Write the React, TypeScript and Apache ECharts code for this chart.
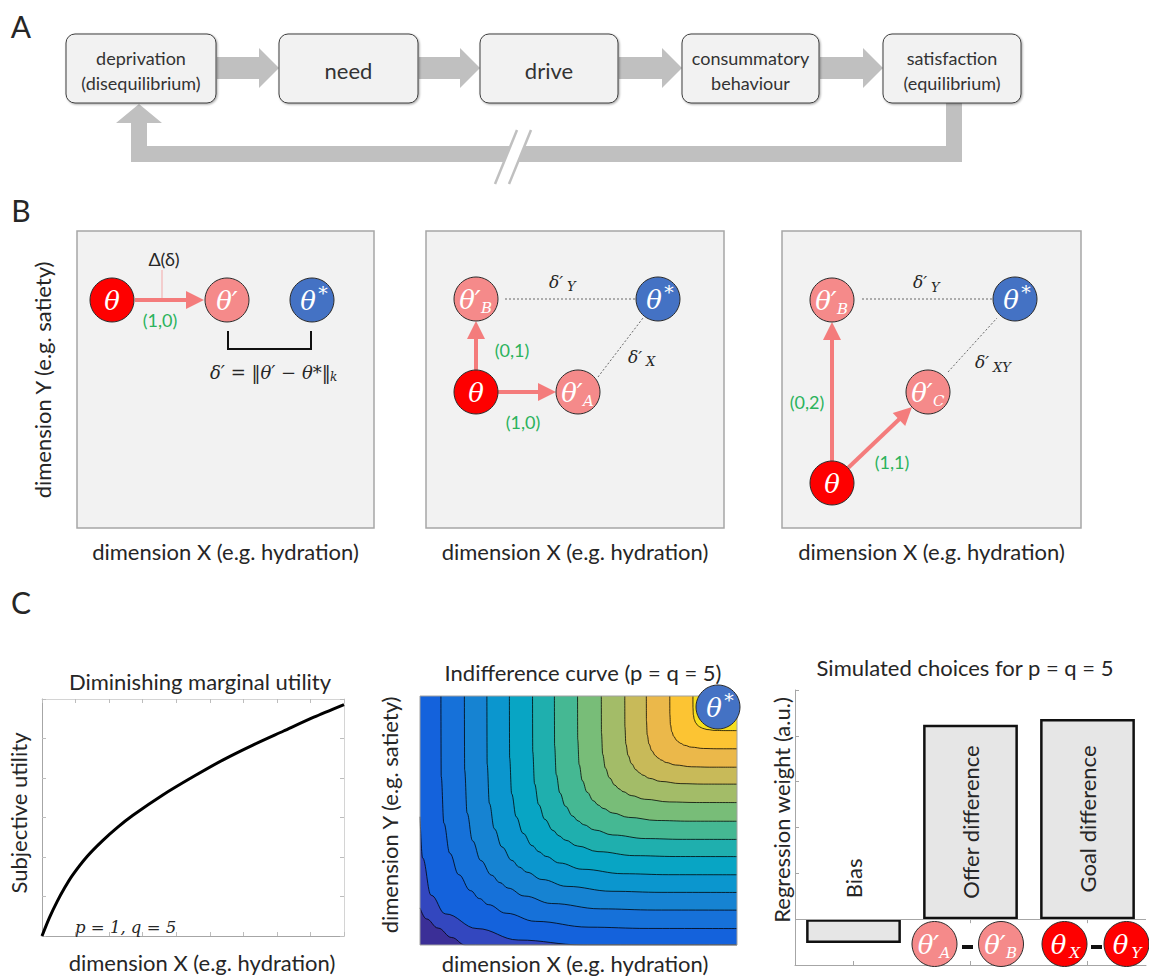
import React, { useEffect, useRef } from "react";
import * as echarts from "echarts";

const SANS = 'Lato, "Noto Sans", sans-serif';
const SERIF = '"DejaVu Serif", "Liberation Serif", serif';
const INK = "#262626";
const GREEN = "#2bb35c";
const RED = "#fe0000";
const PINK = "#f58a8a";
const BLUE = "#4472c4";
const ARROW_PINK = "#f47c7c";
const BLOCK_GRAY = "#c0c0c0";

// ---------- Panel A: flow steps
const flowSteps = [
  "deprivation\n(disequilibrium)",
  "need",
  "drive",
  "consummatory\nbehaviour",
  "satisfaction\n(equilibrium)",
];

// ---------- Panel C1: diminishing marginal utility (x in tick units 0..9, y in tick units 0..6)
const utilityX = [0, 0.225, 0.45, 0.675, 0.9, 1.35, 1.8, 2.25, 2.7, 3.6, 4.5, 5.4, 6.3, 7.2, 8.1, 9];
const utilityY = [0, 0.47, 0.87, 1.22, 1.53, 2.02, 2.41, 2.75, 3.05, 3.57, 4.03, 4.46, 4.84, 5.19, 5.54, 5.86];

// ---------- Panel C2: indifference curves (normalised 0..1 box)
// where each inner contour meets the top edge
const contourTopCrossings = [0.066, 0.14, 0.211, 0.282, 0.355, 0.424, 0.497, 0.572, 0.646, 0.714, 0.788, 0.861];
// common contour profile (fraction of corner distance, x and y)
const contourShapeU = [1, 0.999, 0.99, 0.97, 0.94, 0.9, 0.87, 0.84, 0.78, 0.68, 0.5, 0.3, 0];
const contourShapeV = [0, 0.346, 0.547, 0.676, 0.768, 0.837, 0.871, 0.897, 0.934, 0.969, 0.994, 0.9995, 1];
// the two outer contours near the lower-left corner
const outerContourA = [[0, 0.149], [0.02, 0.105], [0.057, 0.068], [0.1, 0.03], [0.142, 0], [1, 0]];
const outerContourB = [[0, 0.515], [0.008, 0.35], [0.035, 0.2], [0.08, 0.125], [0.18, 0.066], [0.31, 0.02], [0.515, 0], [1, 0]];
const contourColors = [
  "#3b2f97", "#3347bf", "#1462dc", "#1671d9", "#1683d2", "#0b96ce", "#08a5c4", "#1fafae",
  "#45b893", "#78bd78", "#a3bc68", "#c8ba59", "#ebb84a", "#fcc433", "#f6df1e",
];

// ---------- Panel C3: regression weights
const regressionCategories = ["Bias", "Offer difference", "Goal difference"];
const regressionWeights = [-0.52, 4.24, 4.37];

// ---------- helpers
function txt(x: number, y: number, text: string, size: number, o: any = {}) {
  return {
    type: "text",
    z: o.z ?? 120,
    x,
    y,
    rotation: o.rot || 0,
    style: {
      text,
      fill: o.color || INK,
      fontSize: size,
      fontFamily: o.family || SANS,
      fontStyle: o.italic ? "italic" : "normal",
      fontWeight: o.weight || "normal",
      align: o.align || "center",
      verticalAlign: o.va || "middle",
      lineHeight: o.lh,
    },
  };
}

type NodeDef = { cx: number; cy: number; fill: string; sym: string; sub?: string; star?: boolean };
function nodeEls(n: NodeDef, r = 22) {
  const els: any[] = [
    { type: "circle", z: 110, shape: { cx: n.cx, cy: n.cy, r }, style: { fill: n.fill, stroke: "#2b2b2b", lineWidth: 1 } },
  ];
  const shift = n.sub ? -6 : n.star ? -4 : 0;
  els.push(txt(n.cx + shift, n.cy + 1, n.sym, 26, { color: "#fff", family: SERIF, italic: true, z: 111 }));
  if (n.sub) els.push(txt(n.cx + 5, n.cy + 9, n.sub, 15, { color: "#fff", family: SERIF, italic: true, align: "left", z: 111 }));
  if (n.star) els.push(txt(n.cx + 11, n.cy - 7, "*", 19, { color: "#fff", family: SERIF, z: 111 }));
  return els;
}

function arrowEls(x1: number, y1: number, x2: number, y2: number, w = 4, hl = 18, hw = 18, color = ARROW_PINK) {
  const dx = x2 - x1, dy = y2 - y1;
  const L = Math.hypot(dx, dy);
  const ux = dx / L, uy = dy / L;
  const bx = x2 - ux * hl, by = y2 - uy * hl;
  const px = -uy, py = ux;
  return [
    { type: "line", z: 105, shape: { x1, y1, x2: bx + ux, y2: by + uy }, style: { stroke: color, lineWidth: w } },
    {
      type: "polygon",
      z: 105,
      shape: { points: [[x2, y2], [bx + (px * hw) / 2, by + (py * hw) / 2], [bx - (px * hw) / 2, by - (py * hw) / 2]] },
      style: { fill: color },
    },
  ];
}

function dotted(x1: number, y1: number, x2: number, y2: number) {
  return { type: "line", z: 104, shape: { x1, y1, x2, y2 }, style: { stroke: "#444", lineWidth: 0.8, lineDash: [2, 2] } };
}

function buildGraphics() {
  const g: any[] = [];
  // panel letters
  g.push(txt(21, 26, "A", 30));
  g.push(txt(21, 210, "B", 30));
  g.push(txt(21, 602, "C", 30));

  // ---- Panel A
  const boxX0 = [66, 279, 480, 682, 883];
  const boxX1 = [216, 418, 618, 819, 1021];
  const boxTop = 34, boxBot = 103, yc = 68;
  for (let i = 0; i < 4; i++) {
    const x0 = boxX1[i] + 1, xt = boxX0[i + 1], xb = xt - 20;
    g.push({
      type: "polygon",
      z: 100,
      shape: {
        points: [[x0, yc - 11], [xb, yc - 11], [xb, yc - 20], [xt, yc], [xb, yc + 20], [xb, yc + 11], [x0, yc + 11]],
      },
      style: { fill: BLOCK_GRAY },
    });
  }
  g.push({
    type: "polygon",
    z: 100,
    shape: {
      points: [
        [946, boxBot], [962, boxBot], [962, 162], [131, 162], [131, 123], [116, 123], [139, boxBot + 1],
        [162, 123], [147, 123], [147, 146], [946, 146],
      ],
    },
    style: { fill: BLOCK_GRAY },
  });
  g.push({ type: "polygon", z: 101, shape: { points: [[517, 130], [531, 130], [509, 184], [495, 184]] }, style: { fill: "#fff" } });
  g.push({ type: "line", z: 102, shape: { x1: 517, y1: 130, x2: 495, y2: 184 }, style: { stroke: BLOCK_GRAY, lineWidth: 2.5 } });
  g.push({ type: "line", z: 102, shape: { x1: 531, y1: 130, x2: 509, y2: 184 }, style: { stroke: BLOCK_GRAY, lineWidth: 2.5 } });
  flowSteps.forEach((label, i) => {
    g.push({
      type: "rect",
      z: 103,
      shape: { x: boxX0[i], y: boxTop, width: boxX1[i] - boxX0[i], height: boxBot - boxTop, r: 9 },
      style: { fill: "#f2f2f2", stroke: "#3f3f3f", lineWidth: 1, shadowBlur: 2, shadowOffsetX: 1, shadowOffsetY: 1, shadowColor: "rgba(0,0,0,0.35)" },
    });
    const two = label.indexOf("\n") >= 0;
    g.push(txt((boxX0[i] + boxX1[i]) / 2, yc + 2, label, two ? 18 : 22, { color: "#333", lh: 25, z: 104 }));
  });

  // ---- Panel B frames
  const frames = [
    [77, 231, 297, 297],
    [426, 231, 298, 297],
    [782, 231, 299, 297],
  ];
  frames.forEach(([x, y, w, h]) => {
    g.push({ type: "rect", z: 100, shape: { x, y, width: w, height: h }, style: { fill: "#f2f2f2", stroke: "#a6a6a6", lineWidth: 1.5 } });
    g.push(txt(x + w / 2, 551, "dimension X (e.g. hydration)", 22));
  });
  g.push(txt(42, 380, "dimension Y (e.g. satiety)", 22, { rot: Math.PI / 2 }));

  // B1
  g.push({ type: "line", z: 104, shape: { x1: 162, y1: 270, x2: 162, y2: 300 }, style: { stroke: "#f4a8a8", lineWidth: 1 } });
  g.push(...arrowEls(135, 300, 204, 300));
  g.push(...nodeEls({ cx: 112, cy: 300, fill: RED, sym: "θ" }));
  g.push(...nodeEls({ cx: 227, cy: 300, fill: PINK, sym: "θ′" }));
  g.push(...nodeEls({ cx: 312, cy: 300, fill: BLUE, sym: "θ", star: true }));
  g.push(txt(164, 259, "Δ(δ)", 18));
  g.push(txt(160, 320, "(1,0)", 18, { color: GREEN }));
  g.push({ type: "polyline", z: 104, shape: { points: [[228, 331], [228, 349], [311, 349], [311, 331]] }, style: { stroke: "#111", lineWidth: 2, fill: null } });
  g.push(txt(210, 372, "δ′ = ‖θ′ − θ*‖", 18, { family: SERIF, italic: true, align: "left" }));
  g.push(txt(330, 377, "k", 12, { family: SERIF, italic: true, align: "left" }));

  // B2
  g.push(dotted(505, 299, 635, 299));
  g.push(dotted(598, 377, 643, 318));
  g.push(...arrowEls(476, 370, 476, 321));
  g.push(...arrowEls(498, 392, 556, 392));
  g.push(...nodeEls({ cx: 476, cy: 299, fill: PINK, sym: "θ′", sub: "B" }));
  g.push(...nodeEls({ cx: 658, cy: 299, fill: BLUE, sym: "θ", star: true }));
  g.push(...nodeEls({ cx: 476, cy: 392, fill: RED, sym: "θ" }));
  g.push(...nodeEls({ cx: 578, cy: 392, fill: PINK, sym: "θ′", sub: "A" }));
  g.push(txt(512, 350, "(0,1)", 18, { color: GREEN }));
  g.push(txt(523, 422, "(1,0)", 18, { color: GREEN }));
  g.push(txt(549, 282, "δ′", 17, { family: SERIF, italic: true, align: "left" }));
  g.push(txt(567, 286, "Y", 13, { family: SERIF, italic: true, align: "left" }));
  g.push(txt(628, 357, "δ′", 17, { family: SERIF, italic: true, align: "left" }));
  g.push(txt(646, 361, "X", 13, { family: SERIF, italic: true, align: "left" }));

  // B3
  g.push(dotted(862, 299, 992, 299));
  g.push(dotted(948, 372, 997, 318));
  g.push(...arrowEls(832, 461, 832, 322));
  g.push(...arrowEls(848, 468, 912, 407));
  g.push(...nodeEls({ cx: 832, cy: 300, fill: PINK, sym: "θ′", sub: "B" }));
  g.push(...nodeEls({ cx: 1015, cy: 299, fill: BLUE, sym: "θ", star: true }));
  g.push(...nodeEls({ cx: 928, cy: 392, fill: PINK, sym: "θ′", sub: "C" }));
  g.push(...nodeEls({ cx: 832, cy: 483, fill: RED, sym: "θ" }));
  g.push(txt(807, 402, "(0,2)", 18, { color: GREEN }));
  g.push(txt(892, 462, "(1,1)", 18, { color: GREEN }));
  g.push(txt(913, 282, "δ′", 17, { family: SERIF, italic: true, align: "left" }));
  g.push(txt(931, 287, "Y", 13, { family: SERIF, italic: true, align: "left" }));
  g.push(txt(975, 362, "δ′", 17, { family: SERIF, italic: true, align: "left" }));
  g.push(txt(993, 367, "XY", 13, { family: SERIF, italic: true, align: "left" }));

  // ---- Panel C1 texts
  g.push(txt(200, 681, "Diminishing marginal utility", 22));
  g.push(txt(18, 813, "Subjective utility", 22, { rot: Math.PI / 2 }));
  g.push(txt(202, 962, "dimension X (e.g. hydration)", 22));
  g.push(txt(75, 927, "p = 1, q = 5", 16.5, { family: SERIF, italic: true, align: "left" }));

  // ---- Panel C2 texts / frame
  g.push({ type: "rect", z: 100, shape: { x: 420, y: 696, width: 317, height: 249 }, style: { fill: null, stroke: "#a0a0a0", lineWidth: 1 } });
  g.push(txt(583, 672, "Indifference curve (p = q = 5)", 22));
  g.push(txt(389, 815, "dimension Y (e.g. satiety)", 22, { rot: Math.PI / 2 }));
  g.push(txt(575, 963, "dimension X (e.g. hydration)", 22));
  g.push(...nodeEls({ cx: 718, cy: 707, fill: BLUE, sym: "θ", star: true }));

  // ---- Panel C3 texts
  g.push(txt(965, 667, "Simulated choices for p = q = 5", 22));
  g.push(txt(781, 810, "Regression weight (a.u.)", 22, { rot: Math.PI / 2 }));
  g.push(...nodeEls({ cx: 934.5, cy: 944, fill: PINK, sym: "θ′", sub: "A" }, 22.5));
  g.push(...nodeEls({ cx: 1001, cy: 944, fill: PINK, sym: "θ′", sub: "B" }, 22.5));
  g.push(...nodeEls({ cx: 1064.5, cy: 944, fill: RED, sym: "θ", sub: "X" }, 22.5));
  g.push(...nodeEls({ cx: 1126.5, cy: 944, fill: RED, sym: "θ", sub: "Y" }, 22.5));
  g.push({ type: "rect", z: 112, shape: { x: 962, y: 945, width: 11, height: 4 }, style: { fill: "#111" } });
  g.push({ type: "rect", z: 112, shape: { x: 1091, y: 945, width: 11, height: 4 }, style: { fill: "#111" } });
  return g;
}

function contourSeries(points: number[][], color: string) {
  return {
    type: "line",
    xAxisIndex: 2,
    yAxisIndex: 2,
    data: points,
    symbol: "none",
    smooth: 0.4,
    smoothMonotone: "x",
    silent: true,
    lineStyle: { color: "rgba(0,0,0,0.85)", width: 0.9 },
    areaStyle: { color, opacity: 1, origin: "end" },
  };
}

function buildOption() {
  const boxAxis = (pos: string, min: number, max: number, grid: number, light: boolean) => ({
    type: "value",
    gridIndex: grid,
    min,
    max,
    interval: 1,
    position: pos,
    axisLine: { show: true, onZero: false, lineStyle: { color: light ? "#d4d4d4" : "#a6a6a6", width: 1 } },
    axisTick: { show: true, inside: true, length: 4, lineStyle: { color: "#bdbdbd" } },
    axisLabel: { show: false },
    splitLine: { show: false },
  });

  const series: any[] = [];
  series.push({
    type: "line",
    xAxisIndex: 0,
    yAxisIndex: 0,
    data: utilityX.map((x, i) => [x, utilityY[i]]),
    symbol: "none",
    smooth: 0.25,
    lineStyle: { color: "#000", width: 3 },
    silent: true,
  });
  series.push(contourSeries(outerContourA, contourColors[1]));
  series.push(contourSeries(outerContourB, contourColors[2]));
  contourTopCrossings.forEach((c, i) => {
    const d = 1 - c;
    const pts = contourShapeU.map((u, j) => [1 - d * u, 1 - d * contourShapeV[j]]);
    series.push(contourSeries(pts, contourColors[i + 3]));
  });
  series.push({
    type: "bar",
    xAxisIndex: 3,
    yAxisIndex: 3,
    barWidth: "81%",
    silent: true,
    data: regressionWeights.map((v, i) => ({
      value: v,
      label:
        i === 0
          ? { position: "top", distance: 21, rotate: 90, align: "left", verticalAlign: "middle" }
          : { position: "inside", rotate: 90, align: "center", verticalAlign: "middle" },
    })),
    itemStyle: { color: "#e6e6e6", borderColor: "#111", borderWidth: 2.5 },
    label: { show: true, formatter: "{b}", fontSize: 22, fontFamily: SANS, color: INK },
    markLine: {
      silent: true,
      symbol: ["none", "none"],
      label: { show: false },
      lineStyle: { color: "#a6a6a6", width: 1, type: "solid" },
      data: [{ yAxis: 0 }],
    },
  });

  return {
    animation: false,
    backgroundColor: "#ffffff",
    grid: [
      { left: 42, top: 699, width: 302, height: 237 },
      { left: 420, top: 696, width: 317, height: 249, show: true, backgroundColor: contourColors[0], borderWidth: 0 },
      { left: 795, top: 690, width: 351, height: 275 },
    ],
    xAxis: [
      boxAxis("bottom", 0, 9, 0, false),
      boxAxis("top", 0, 9, 0, true),
      { type: "value", gridIndex: 1, min: 0, max: 1, show: false },
      {
        type: "category",
        gridIndex: 2,
        data: regressionCategories,
        position: "bottom",
        axisLine: { show: true, onZero: false, lineStyle: { color: "#a6a6a6" } },
        axisTick: { show: true, inside: true, alignWithLabel: true, length: 4, lineStyle: { color: "#a6a6a6" } },
        axisLabel: { show: false },
      },
      {
        type: "category",
        gridIndex: 2,
        data: regressionCategories,
        position: "top",
        axisLine: { show: false },
        axisTick: { show: true, inside: true, alignWithLabel: true, length: 4, lineStyle: { color: "#a6a6a6" } },
        axisLabel: { show: false },
      },
    ],
    yAxis: [
      boxAxis("left", 0, 6, 0, false),
      boxAxis("right", 0, 6, 0, true),
      { type: "value", gridIndex: 1, min: 0, max: 1, show: false },
      {
        type: "value",
        gridIndex: 2,
        min: -1,
        max: 5,
        interval: 1,
        position: "left",
        axisLine: { show: true, lineStyle: { color: "#a6a6a6" } },
        axisTick: { show: true, inside: true, length: 4, lineStyle: { color: "#a6a6a6" } },
        axisLabel: { show: false },
        splitLine: { show: false },
      },
    ],
    series,
    graphic: { elements: buildGraphics() },
  };
}

export default function App() {
  const ref = useRef<HTMLDivElement>(null);
  useEffect(() => {
    if (!ref.current) return;
    const chart = echarts.init(ref.current, undefined, { renderer: "svg" });
    chart.setOption(buildOption() as any);
    return () => chart.dispose();
  }, []);
  return <div ref={ref} style={{ position: "absolute", left: 0, top: 0, width: 1149, height: 978 }} />;
}
